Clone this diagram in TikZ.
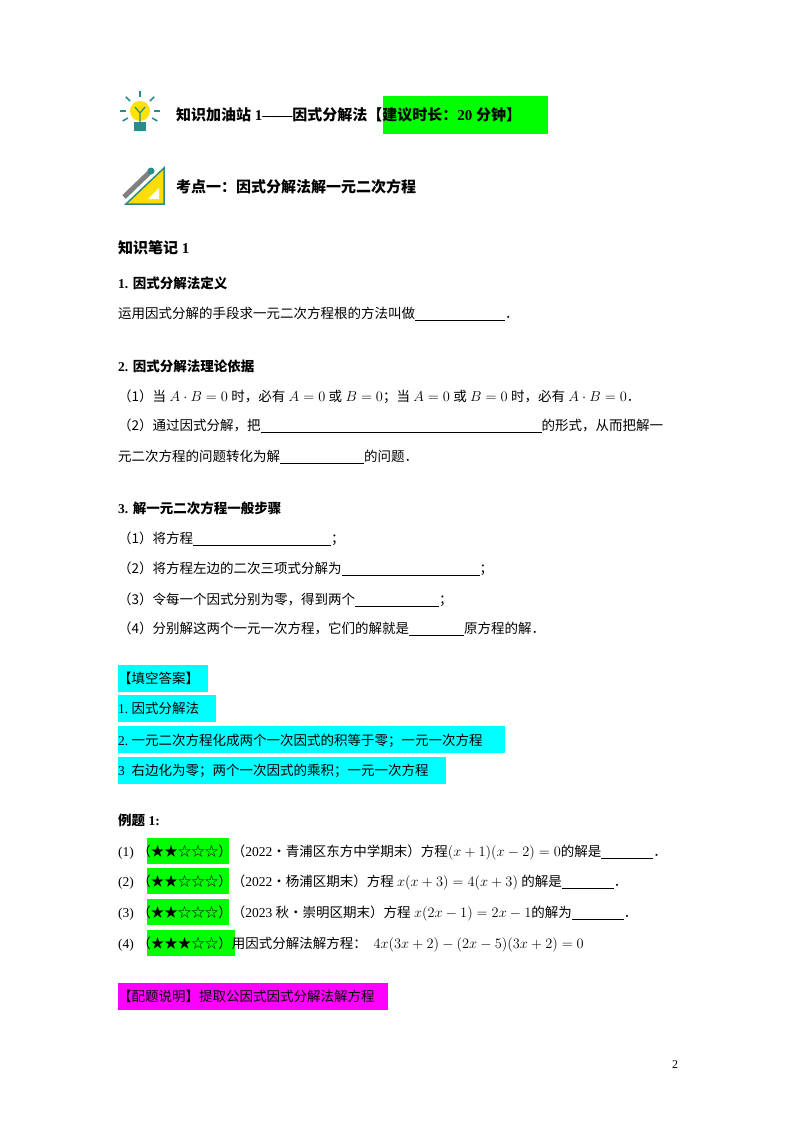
\documentclass[tikz,border=0pt]{standalone}
\usepackage{fontspec}
\setmainfont{Liberation Serif}
\newfontfamily\cjk{Noto Sans CJK SC}
\newcommand{\C}[1]{{\cjk #1}}
\newcommand{\bl}[1]{\rule[-2pt]{#1pt}{0.5pt}}
\newcommand{\pd}{{\cjk ．}}
\definecolor{hlgreen}{RGB}{0,255,0}
\definecolor{hlcyan}{RGB}{0,255,255}
\definecolor{hlmag}{RGB}{255,0,255}
\definecolor{teal1}{RGB}{40,140,140}
\begin{document}
\begin{tikzpicture}[x=1pt,y=1pt,
  t/.style={anchor=base west,inner sep=0pt,font=\fontsize{13.5}{16}\selectfont},
  h/.style={t,font=\fontsize{15}{18}\selectfont\bfseries}]
\useasboundingbox (0,0) rectangle (800,-1132);
% highlight boxes
\fill[hlgreen] (383,-96) rectangle (548,-134);
\fill[hlcyan] (118,-665) rectangle (208,-692);
\fill[hlcyan] (118,-695) rectangle (216,-722);
\fill[hlcyan] (118,-726) rectangle (505,-753);
\fill[hlcyan] (118,-757) rectangle (446,-784);
\fill[hlmag] (118,-983) rectangle (388,-1010);
\foreach \y/\w in {851/82,881/82,912/82,943/88}
  \fill[hlgreen] (147,-\y+13) rectangle (147+\w,-\y-13);
% bulb icon
\fill[yellow!85!orange] (140,-111) circle (10);
\fill[teal1] (134,-122) rectangle (146,-131);
\draw[teal1,line width=1.2] (140,-112)--(140,-122) (135,-107)--(140,-113)--(145,-107);
\foreach \a in {90,135,45,180,0,210,330} \draw[teal1,line width=1.6] (140,-111)++(\a:14)--++(\a:6);
% pencil / ruler icon
\fill[yellow!80!orange] (126,-204)--(164,-204)--(164,-168)--cycle;
\draw[teal1,line width=1.5] (126,-204)--(164,-204)--(164,-168)--cycle;
\fill[white] (148,-199)--(159,-199)--(159,-188)--cycle;
\draw[line width=5,gray] (124,-197)--(151,-171);
\fill[teal1] (151,-171) circle (3.5);
% texts
\node[h] (t1) at (176,-120) {\C{知识加油站} 1——\C{因式分解法【建议时长：}20 \C{分钟】}};
\node[h] (t2) at (176,-192) {\C{考点一：因式分解法解一元二次方程}};
\node[h] (t3) at (118,-253) {\C{知识笔记} 1};
\node[t,font=\fontsize{13.5}{16}\selectfont\bfseries] (s1) at (118,-288) {1. \C{因式分解法定义}};
\node[t] (l1) at (118,-318) {\C{运用因式分解的手段求一元二次方程根的方法叫做}\bl{90}\pd};
\node[t,font=\fontsize{13.5}{16}\selectfont\bfseries] (s2) at (118,-371) {2. \C{因式分解法理论依据}};
\node[t] (l2) at (118,-401) {\C{（1）当} $A\cdot B=0$ \C{时，必有} $A=0$ \C{或} $B=0$\C{；当} $A=0$ \C{或} $B=0$ \C{时，必有} $A\cdot B=0$\pd};
\node[t] (l3) at (118,-430) {\C{（2）通过因式分解，把}\bl{281}\C{的形式，从而把解一}};
\node[t] (l4) at (118,-461) {\C{元二次方程的问题转化为解}\bl{84}\C{的问题}\pd};
\node[t,font=\fontsize{13.5}{16}\selectfont\bfseries] (s3) at (118,-513) {3. \C{解一元二次方程一般步骤}};
\node[t] (m1) at (118,-543) {\C{（1）将方程}\bl{138}\C{；}};
\node[t] (m2) at (118,-573) {\C{（2）将方程左边的二次三项式分解为}\bl{138}\C{；}};
\node[t] (m3) at (118,-604) {\C{（3）令每一个因式分别为零，得到两个}\bl{84}\C{；}};
\node[t] (m4) at (118,-633) {\C{（4）分别解这两个一元一次方程，它们的解就是}\bl{55}\C{原方程的解}\pd};
\node[t] (a0) at (118,-683) {\C{【填空答案】}};
\node[t] (a1) at (118,-713) {1.\ \C{因式分解法}};
\node[t] (a2) at (118,-745) {2.\ \C{一元二次方程化成两个一次因式的积等于零；一元一次方程}};
\node[t] (a3) at (118,-775) {3\ \ \C{右边化为零；两个一次因式的乘积；一元一次方程}};
\node[t,font=\fontsize{13.5}{16}\selectfont\bfseries] (e0) at (118,-825) {\C{例题} 1:};
\node[t] (e1) at (118,-856) {(1)\ \C{（★★☆☆☆）（}2022\C{•青浦区东方中学期末）方程}$(x+1)(x-2)=0$\C{的解是}\bl{52}\pd};
\node[t] (e2) at (118,-886) {(2)\ \C{（★★☆☆☆）（}2022\C{•杨浦区期末）方程} $x(x+3)=4(x+3)$ \C{的解是}\bl{52}\pd};
\node[t] (e3) at (118,-917) {(3)\ \C{（★★☆☆☆）（}2023 \C{秋•崇明区期末）方程} $x(2x-1)=2x-1$\C{的解为}\bl{52}\pd};
\node[t] (e4) at (118,-948) {(4)\ \C{（★★★☆☆）用因式分解法解方程：}\ \ $4x(3x+2)-(2x-5)(3x+2)=0$};
\node[t] (p0) at (118,-1001) {\C{【配题说明】提取公因式因式分解法解方程}};
\node[t,font=\fontsize{12}{14}\selectfont] (pg) at (672,-1068) {2};
\end{tikzpicture}
\end{document}
